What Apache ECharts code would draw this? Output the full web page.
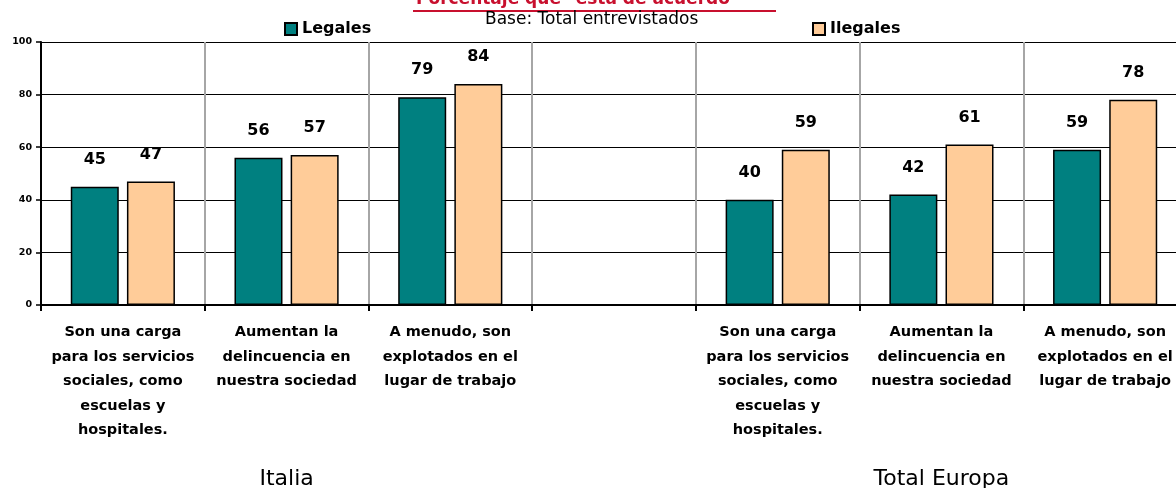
<!DOCTYPE html>
<html>
<head>
<meta charset="utf-8">
<script src="https://cdn.jsdelivr.net/npm/echarts@6/dist/echarts.min.js"></script>
<style>
  html, body { margin: 0; padding: 0; background: #fff; }
  #chart { width: 1176px; height: 488px; }
</style>
</head>
<body>
<div id="chart"></div>
<script>
// categorias (la 4a queda vacia para separar Italia / Total Europa)
const categories = [
  'Son una carga\npara los servicios\nsociales, como\nescuelas y\nhospitales.',
  'Aumentan la\ndelincuencia en\nnuestra sociedad',
  'A menudo, son\nexplotados en el\nlugar de trabajo',
  '',
  'Son una carga\npara los servicios\nsociales, como\nescuelas y\nhospitales.',
  'Aumentan la\ndelincuencia en\nnuestra sociedad',
  'A menudo, son\nexplotados en el\nlugar de trabajo'
]
const groups = ['', 'Italia', '', '', '', 'Total Europa', '']
const legales = [45, 56, 79, null, 40, 42, 59]
const ilegales = [47, 57, 84, null, 59, 61, 78]
const yTicks = [0, 20, 40, 60, 80, 100]

const FONT = 'DejaVu Sans'
const chart = echarts.init(document.getElementById('chart'))

const barLabel = {
  show: true,
  position: 'top',
  distance: 19,
  color: '#000',
  fontFamily: FONT,
  fontWeight: 'bold',
  fontSize: 16
}

const options = {
  animation: false,
  title: [
    {
      text: 'Porcentaje que "está de acuerdo"',
      left: 411,
      top: -14,
      textStyle: { color: '#C8102E', fontFamily: FONT, fontWeight: 'bold', fontSize: 17 }
    },
    {
      text: 'Base: Total entrevistados',
      left: 480,
      top: 6,
      textStyle: { color: '#000', fontFamily: FONT, fontWeight: 'normal', fontSize: 17 }
    }
  ],
  graphic: [
    {
      type: 'line',
      shape: { x1: 413, y1: 11, x2: 776, y2: 11 },
      style: { stroke: '#C8102E', lineWidth: 2 }
    }
  ],
  legend: [
    {
      data: ['Legales'],
      left: 279,
      top: 16,
      icon: 'rect',
      itemWidth: 12,
      itemHeight: 12,
      textStyle: { color: '#000', fontFamily: FONT, fontWeight: 'bold', fontSize: 16 }
    },
    {
      data: ['Ilegales'],
      left: 807,
      top: 16,
      icon: 'rect',
      itemWidth: 12,
      itemHeight: 12,
      textStyle: { color: '#000', fontFamily: FONT, fontWeight: 'bold', fontSize: 16 }
    }
  ],
  grid: {
    left: 41,
    top: 42,
    bottom: 183,
    width: 1146,
    outerBoundsMode: 'none'
  },
  xAxis: [
    {
      type: 'category',
      data: categories,
      axisLine: { lineStyle: { color: '#000', width: 2 } },
      axisTick: { show: true, length: 6, lineStyle: { color: '#000', width: 2 } },
      splitLine: { show: true, lineStyle: { color: '#a6a6a6', width: 2 } },
      axisLabel: {
        interval: 0,
        margin: 15,
        color: '#000',
        fontFamily: FONT,
        fontWeight: 'bold',
        fontSize: 14.5,
        lineHeight: 24.5,
        align: 'center'
      }
    },
    {
      type: 'category',
      data: groups,
      position: 'bottom',
      offset: 155,
      axisLine: { show: false },
      axisTick: { show: false },
      splitLine: { show: false },
      axisLabel: {
        interval: 0,
        color: '#000',
        fontFamily: FONT,
        fontSize: 22,
        fontWeight: 'normal'
      }
    }
  ],
  yAxis: {
    type: 'value',
    min: 0,
    max: 100,
    interval: 20,
    axisLine: { show: true, lineStyle: { color: '#000', width: 2 } },
    axisTick: { show: true, length: 5, lineStyle: { color: '#000', width: 1.5 } },
    splitLine: { show: true, lineStyle: { color: '#000', width: 1.2 } },
    axisLabel: {
      margin: 9,
      color: '#000',
      fontFamily: FONT,
      fontWeight: 'bold',
      fontSize: 9.5,
      formatter: v => (yTicks.includes(v) ? String(v) : '')
    }
  },
  series: [
    {
      name: 'Legales',
      type: 'bar',
      data: legales,
      barWidth: 48,
      barGap: '17%',
      itemStyle: { color: '#008080', borderColor: '#000', borderWidth: 1.5 },
      label: barLabel
    },
    {
      name: 'Ilegales',
      type: 'bar',
      data: ilegales,
      barWidth: 48,
      itemStyle: { color: '#FFCC99', borderColor: '#000', borderWidth: 1.5 },
      label: barLabel
    }
  ]
}
chart.setOption(options)
</script>
</body>
</html>
